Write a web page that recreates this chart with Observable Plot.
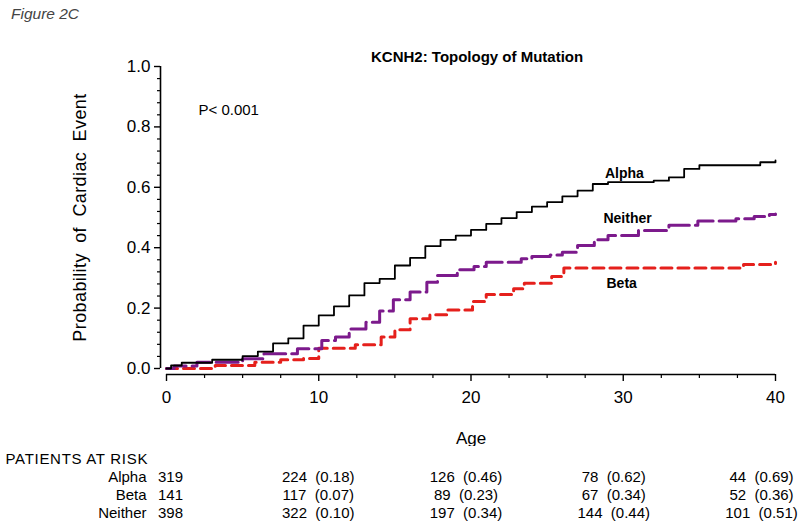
<!DOCTYPE html>
<html><head><meta charset="utf-8">
<script src="https://cdn.jsdelivr.net/npm/d3@7"></script>
<script src="https://cdn.jsdelivr.net/npm/@observablehq/plot@0.6"></script>
<style>
body{margin:0;background:#fff;}
#wrap{position:relative;width:800px;height:527px;font-family:"Liberation Sans",Arial,sans-serif;background:#fff;}
#fig{position:absolute;left:11px;top:5px;font-style:italic;font-size:15.5px;color:#444;}
#main{position:absolute;left:0;top:0;}
#table{position:absolute;left:0;top:446px;}
</style></head><body>
<div id="wrap"><div id="main"></div><div id="table"></div><div id="fig">Figure 2C</div></div>
<script>
// ---- data ----
const alphaAge  = [0,0.3,1,3,5,6,7,8,9,10,11,12,13,14,15,16,17,18,19,20,21,22,23,24,25,26,27,28,29,32,33,34,35,39,40];
const alphaProb = [0,0.010,0.019,0.029,0.041,0.056,0.083,0.100,0.142,0.176,0.206,0.242,0.283,0.297,0.341,0.366,0.405,0.426,0.440,0.459,0.479,0.498,0.518,0.536,0.551,0.570,0.589,0.611,0.617,0.622,0.633,0.661,0.673,0.683,0.689];

const neitherAge  = [0,0.5,2,5,6.4,8.6,10.2,11.1,12,13.1,14,14.9,16,17.1,17.8,19.1,20.2,21,23.3,24,25.2,26,27,28.1,29,31,33,34.9,37.4,38.6,39.6,40];
const neitherProb = [0,0.008,0.021,0.032,0.049,0.065,0.093,0.104,0.131,0.153,0.190,0.228,0.253,0.286,0.308,0.327,0.338,0.352,0.363,0.371,0.376,0.385,0.407,0.426,0.440,0.457,0.474,0.488,0.496,0.503,0.510,0.512];

const betaAge  = [0,3.2,5.8,7.5,9,10,12.4,14.1,15,16,17.3,18.4,20.1,21,22.8,23.5,25.3,26.1,37.9,40];
const betaProb = [0,0.010,0.021,0.029,0.033,0.067,0.079,0.104,0.128,0.165,0.178,0.194,0.222,0.245,0.264,0.282,0.305,0.333,0.344,0.352];

const xMajor = [0,10,20,30,40];
const xMinor = [2.5,5,7.5,12.5,15,17.5,22.5,25,27.5,32.5,35,37.5];
const yMajor = [0,0.2,0.4,0.6,0.8,1.0];
const yMinor = [0.04,0.08,0.12,0.16,0.24,0.28,0.32,0.36,0.44,0.48,0.52,0.56,0.64,0.68,0.72,0.76,0.84,0.88,0.92,0.96];

const groups = ["Alpha","Beta","Neither"];
const riskAges = [0,10,20,30,40];
const alphaAtRisk   = [319,224,126,78,44];
const alphaRiskP    = [null,0.18,0.46,0.62,0.69];
const betaAtRisk    = [141,117,89,67,52];
const betaRiskP     = [null,0.07,0.23,0.34,0.36];
const neitherAtRisk = [398,322,197,144,101];
const neitherRiskP  = [null,0.10,0.34,0.44,0.51];

// ---- build tables ----
const mk = (name, ages, probs) => ages.map((a,i)=>({group:name, age:a, p:probs[i]}));
const alpha = mk("Alpha", alphaAge, alphaProb);
const neither = mk("Neither", neitherAge, neitherProb);
const beta = mk("Beta", betaAge, betaProb);

const font = '"Liberation Sans", Arial, sans-serif';

const main = Plot.plot({
  width: 800, height: 446,
  marginLeft: 166, marginRight: 25, marginTop: 66, marginBottom: 78,
  style: {fontFamily: font, background: "white", color: "black", overflow: "visible"},
  x: {domain: [0, 40]},
  y: {domain: [0, 1]},
  marks: [
    Plot.ruleX([0], {y1: 0, y2: 1, dx: -6, stroke: "black", strokeWidth: 1.6}),
    Plot.axisY({ticks: yMajor, tickSize: 6, dx: -6, tickPadding: 4, tickFormat: d3.format(".1f"), fontSize: 17, label: null, strokeWidth: 1.4}),
    Plot.axisY({ticks: yMinor, tickSize: 3, dx: -6, tickFormat: () => "", label: null, strokeWidth: 1.2}),
    Plot.ruleY([0], {x1: 0, x2: 40, dy: 6, stroke: "black", strokeWidth: 1.6}),
    Plot.axisX({ticks: xMajor, tickSize: 7, dy: 6, tickPadding: 9, fontSize: 17, label: null, strokeWidth: 1.4}),
    Plot.axisX({ticks: xMinor, tickSize: 4, dy: 6, tickFormat: () => "", label: null, strokeWidth: 1.2}),
    Plot.line(beta, {x: "age", y: "p", curve: "step-after", stroke: "#e5201c", strokeWidth: 3, strokeDasharray: "11,6"}),
    Plot.line(neither, {x: "age", y: "p", curve: "step-after", stroke: "#7c1a8c", strokeWidth: 3, strokeDasharray: "22,6"}),
    Plot.line(alpha, {x: "age", y: "p", curve: "step-after", stroke: "black", strokeWidth: 1.8}),
    Plot.text(["KCNH2: Topology of Mutation"], {text: d => d, x: 20.4, y: 1.03, fontSize: 15, fontWeight: "bold"}),
    Plot.text(["P< 0.001"], {text: d => d, x: 2.1, y: 0.854, textAnchor: "start", fontSize: 15}),
    Plot.text(["Alpha"], {text: d => d, x: 28.8, y: 0.646, textAnchor: "start", fontSize: 14, fontWeight: "bold"}),
    Plot.text(["Neither"], {text: d => d, x: 28.7, y: 0.497, textAnchor: "start", fontSize: 14, fontWeight: "bold"}),
    Plot.text(["Beta"], {text: d => d, x: 28.9, y: 0.281, textAnchor: "start", fontSize: 14, fontWeight: "bold"}),
    Plot.text(["Probability of Cardiac Event"], {text: d => d, frameAnchor: "left", textAnchor: "middle", lineAnchor: "middle", rotate: -90, dx: -86, fontSize: 18, className: "ylab"}),
    Plot.text(["Age"], {text: d => d, frameAnchor: "bottom", textAnchor: "middle", lineAnchor: "middle", dy: 70, fontSize: 17})
  ]
});
main.querySelectorAll(".ylab text").forEach(t => { t.setAttribute("word-spacing", "5"); t.setAttribute("letter-spacing", "0.4"); });
document.getElementById("main").appendChild(main);

// ---- risk table ----
const cells = [];
const add = (g, ns, ps) => riskAges.forEach((a,i) => cells.push({group: g, age: a,
  label: ps[i] == null ? `${ns[i]}` : `${ns[i]}  (${ps[i].toFixed(2)})`}));
add("Alpha", alphaAtRisk, alphaRiskP);
add("Beta", betaAtRisk, betaRiskP);
add("Neither", neitherAtRisk, neitherRiskP);

const rows = ["PATIENTS AT RISK", ...groups];
const table = Plot.plot({
  width: 800, height: 81, margin: 0,
  style: {fontFamily: font, background: "white", color: "black", overflow: "visible"},
  x: {domain: [0, 40], range: [170, 761], axis: null},
  y: {type: "point", domain: rows, range: [12, 67], padding: 0, axis: null},
  marks: [
    Plot.text(["PATIENTS AT RISK"], {text: d => d, x: 0, y: d => d, textAnchor: "start", dx: -165, fontSize: 15, className: "hdr"}),
    Plot.text(groups, {text: d => d, x: 0, y: d => d, textAnchor: "end", dx: -24, fontSize: 15}),
    Plot.text(cells, {x: "age", y: "group", text: "label", fontSize: 15})
  ]
});
table.querySelectorAll("text").forEach(t => t.setAttribute("xml:space", "preserve"));
table.querySelectorAll(".hdr text").forEach(t => t.setAttribute("letter-spacing", "0.7"));
document.getElementById("table").appendChild(table);
</script>
</body></html>
